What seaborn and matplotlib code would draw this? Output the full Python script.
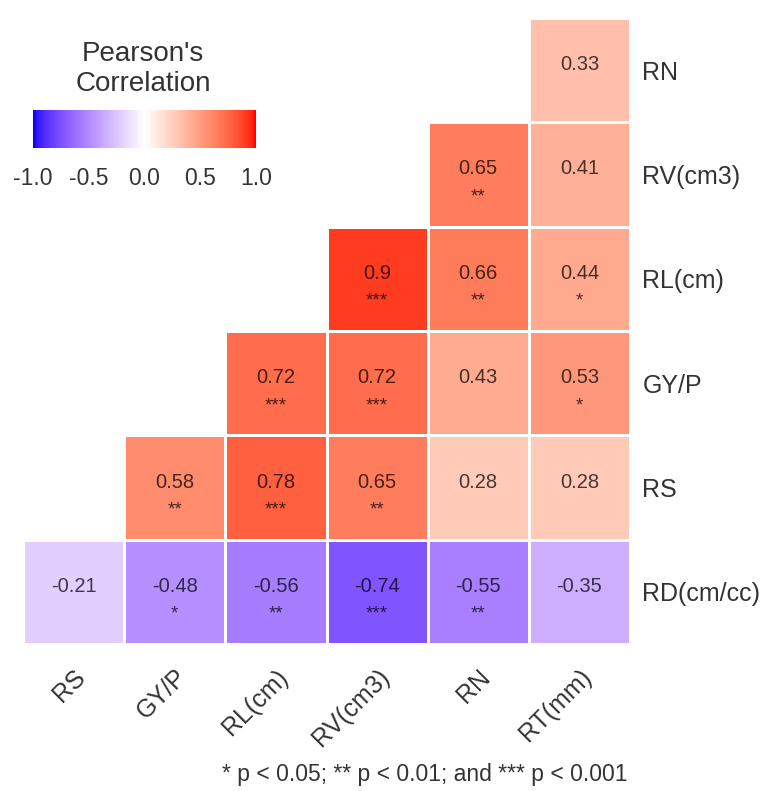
import numpy as np
import pandas as pd
import matplotlib
matplotlib.use("Agg")
import matplotlib.pyplot as plt
from matplotlib.colors import ListedColormap
import seaborn as sns

# ---------------- data ----------------
col_labels = ["RS", "GY/P", "RL(cm)", "RV(cm3)", "RN", "RT(mm)"]
row_labels = ["RN", "RV(cm3)", "RL(cm)", "GY/P", "RS", "RD(cm/cc)"]

r_RN = [np.nan, np.nan, np.nan, np.nan, np.nan, 0.33]
r_RV = [np.nan, np.nan, np.nan, np.nan, 0.65, 0.41]
r_RL = [np.nan, np.nan, np.nan, 0.90, 0.66, 0.44]
r_GY = [np.nan, np.nan, 0.72, 0.72, 0.43, 0.53]
r_RS = [np.nan, 0.58, 0.78, 0.65, 0.28, 0.28]
r_RD = [-0.21, -0.48, -0.56, -0.74, -0.55, -0.35]

s_RN = ["", "", "", "", "", ""]
s_RV = ["", "", "", "", "**", ""]
s_RL = ["", "", "", "***", "**", "*"]
s_GY = ["", "", "***", "***", "", "*"]
s_RS = ["", "**", "***", "**", "", ""]
s_RD = ["", "*", "**", "***", "**", ""]

cbar_ticks = [-1.0, -0.5, 0.0, 0.5, 1.0]
cbar_ticklabels = ["-1.0", "-0.5", "0.0", "0.5", "1.0"]
legend_title = "Pearson's\nCorrelation"
caption = "* p < 0.05; ** p < 0.01; and *** p < 0.001"

values = pd.DataFrame([r_RN, r_RV, r_RL, r_GY, r_RS, r_RD],
                      index=row_labels, columns=col_labels)
stars = [s_RN, s_RV, s_RL, s_GY, s_RS, s_RD]

# ---------------- colormap (Lab interpolation like ggplot gradient2) ----------------
_M = np.array([[0.4124564, 0.3575761, 0.1804375],
               [0.2126729, 0.7151522, 0.0721750],
               [0.0193339, 0.1191920, 0.9503041]])
_WP = np.array([0.95047, 1.0, 1.08883])


def srgb2lab(c):
    c = np.asarray(c, float)
    lin = np.where(c <= 0.04045, c / 12.92, ((c + 0.055) / 1.055) ** 2.4)
    xyz = _M @ lin / _WP
    d = 6 / 29
    f = np.where(xyz > d ** 3, np.cbrt(xyz), xyz / (3 * d * d) + 4 / 29)
    return np.array([116 * f[1] - 16, 500 * (f[0] - f[1]), 200 * (f[1] - f[2])])


def lab2srgb(lab):
    L, a, b = lab
    fy = (L + 16) / 116
    fx = fy + a / 500
    fz = fy - b / 200
    d = 6 / 29
    f = np.array([fx, fy, fz])
    xyz = np.where(f > d, f ** 3, 3 * d * d * (f - 4 / 29)) * _WP
    lin = np.linalg.solve(_M, xyz)
    lin = np.clip(lin, 0, 1)
    c = np.where(lin <= 0.0031308, 12.92 * lin, 1.055 * lin ** (1 / 2.4) - 0.055)
    return np.clip(c, 0, 1)


lab_lo = srgb2lab([0, 0, 1])
lab_mid = srgb2lab([1, 1, 1])
lab_hi = srgb2lab([1, 0, 0])
cols = []
for t in np.linspace(-1, 1, 256):
    if t < 0:
        lab = lab_mid + (lab_lo - lab_mid) * (-t)
    else:
        lab = lab_mid + (lab_hi - lab_mid) * t
    cols.append(lab2srgb(lab))
cmap = ListedColormap(cols)

# ---------------- figure ----------------
sns.set_theme(style="white")
plt.rcParams["font.family"] = ["Liberation Sans", "DejaVu Sans"]

W, H = 767, 791
fig = plt.figure(figsize=(W / 100, H / 100), dpi=100)
ax = fig.add_axes([23 / W, 1 - 644 / H, (630 - 23) / W, (644 - 18) / H])
cax = fig.add_axes([33 / W, 1 - 148 / H, (256 - 33) / W, (148 - 110) / H])

sns.heatmap(values, cmap=cmap, vmin=-1, vmax=1, linewidths=1.0, linecolor="white",
            ax=ax, cbar_ax=cax, cbar_kws={"orientation": "horizontal"})

# annotations
for i, row in enumerate(row_labels):
    for j, col in enumerate(col_labels):
        v = values.loc[row, col]
        if np.isnan(v):
            continue
        ax.text(j + 0.5, i + 0.5, f"{v:g}", ha="center", va="baseline",
                fontsize=14.5, color="black", alpha=0.72)
        if stars[i][j]:
            ax.text(j + 0.5, i + 0.5 + 0.26, stars[i][j], ha="center", va="baseline",
                    fontsize=13.5, color="black", alpha=0.72)

ax.set_xlabel("")
ax.set_ylabel("")
ax.yaxis.tick_right()
ax.tick_params(axis="both", length=0)
ax.set_yticklabels(row_labels, rotation=0, fontsize=18, color="#333333")
ax.tick_params(axis="y", pad=9)
ax.set_xticklabels(col_labels, rotation=45, ha="right", va="top",
                   rotation_mode="anchor", fontsize=18, color="#333333")
ax.tick_params(axis="x", pad=15)
for s in ax.spines.values():
    s.set_visible(False)

# colorbar
cbar = ax.collections[0].colorbar
cbar.outline.set_visible(False)
cbar.set_ticks(cbar_ticks)
cbar.set_ticklabels(cbar_ticklabels)
cax.tick_params(axis="x", direction="in", length=8, width=1, colors="white",
                top=True, bottom=True, labelsize=16.5, labelcolor="#333333", pad=14)

fig.text(143 / W, 1 - 41 / H, legend_title, ha="center", va="top",
         fontsize=20, color="#333333", linespacing=1.22)

fig.text(628 / W, 1 - 775 / H, caption, ha="right", va="center",
         fontsize=16.5, color="#333333")

fig.savefig("out.png", dpi=100, facecolor="white")
